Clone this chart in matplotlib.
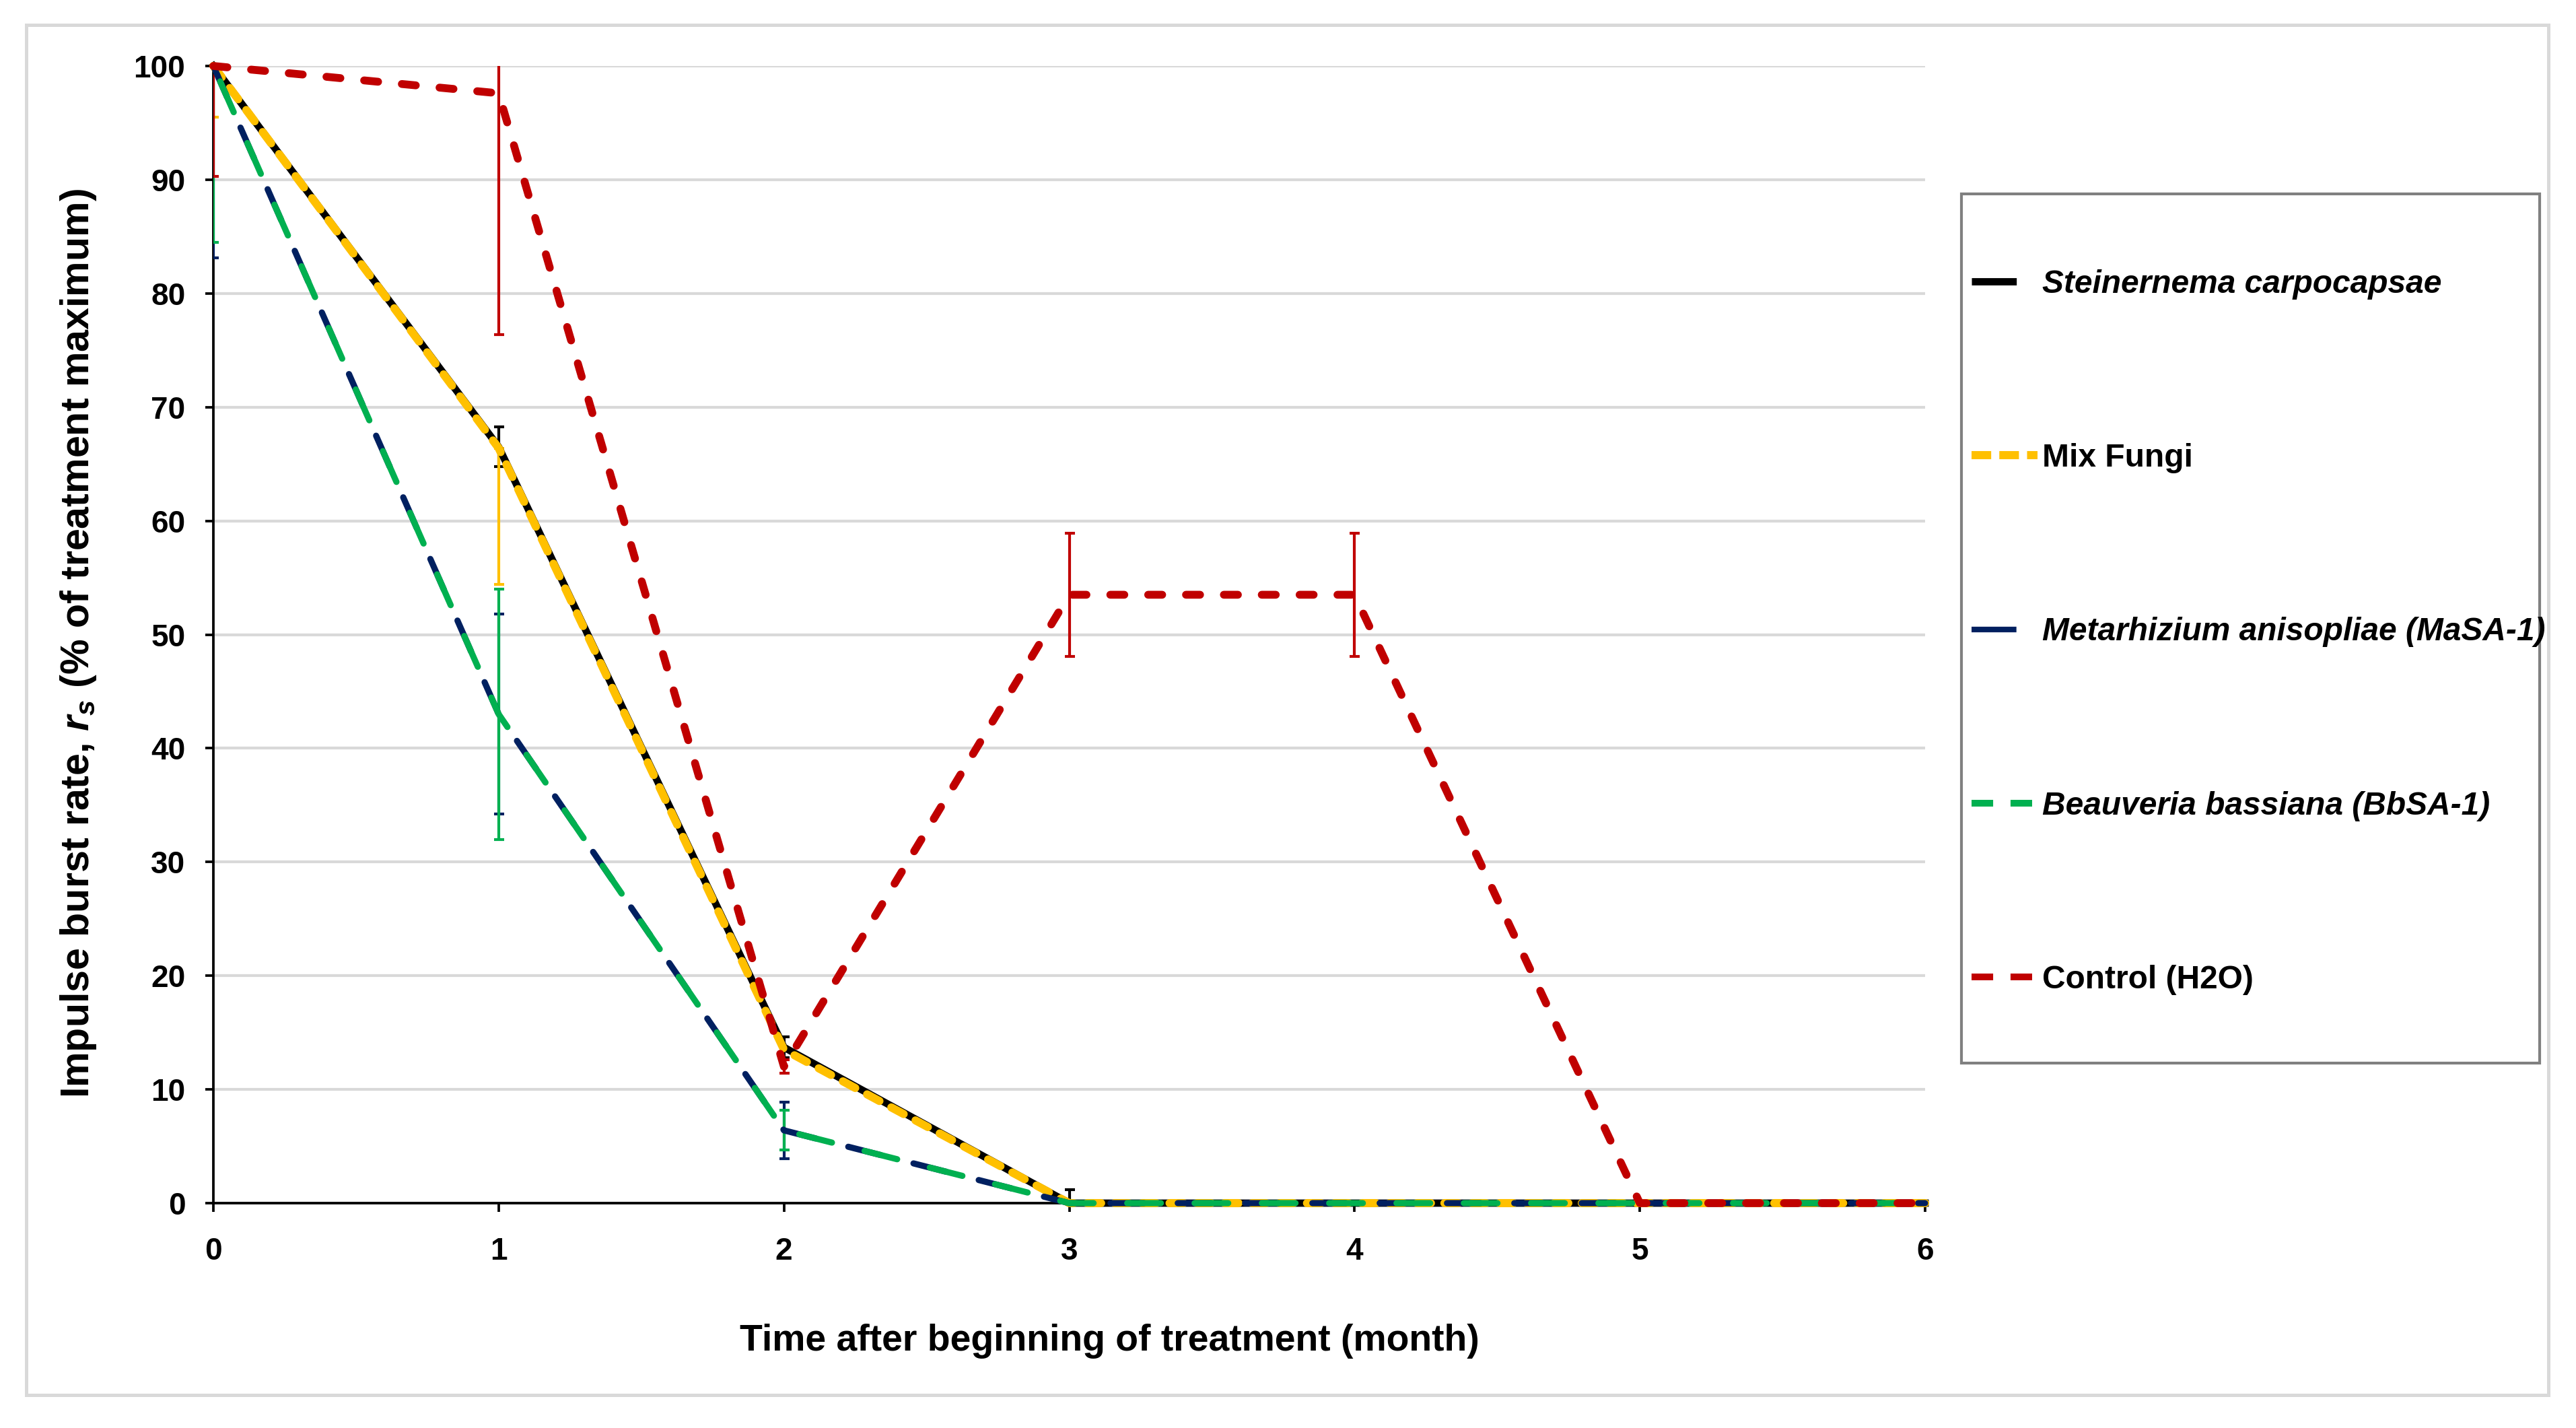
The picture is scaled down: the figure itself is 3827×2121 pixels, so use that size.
import numpy as np
import matplotlib
matplotlib.use('Agg')
import matplotlib.pyplot as plt
from matplotlib.lines import Line2D
from matplotlib.patches import Rectangle

plt.rcParams['font.family'] = ['Liberation Sans', 'DejaVu Sans']
plt.rcParams['font.weight'] = 'bold'
plt.rcParams['mathtext.fontset'] = 'custom'
plt.rcParams['mathtext.it'] = 'Liberation Sans:italic:bold'
plt.rcParams['mathtext.rm'] = 'Liberation Sans:bold'
plt.rcParams['lines.scale_dashes'] = False

# données
months = [0, 1, 2, 3, 4, 5, 6]
labels = ['Steinernema carpocapsae', 'Mix Fungi', 'Metarhizium anisopliae (MaSA-1)',
          'Beauveria bassiana (BbSA-1)', 'Control (H2O)']

sc_mean = [100, 66.5, 13.7, 0, 0, 0, 0]
sc_err = [0, 1.75, 0.9, 1.2, 0, 0, 0]

mix_mean = [100, 66.4, 13.5, 0, 0, 0, 0]
mix_err_low = [4.5, 12.0, 0, 0, 0, 0, 0]
mix_err_high = [4.5, 0, 0, 0, 0, 0, 0]

ma_mean = [100, 43.0, 6.4, 0, 0, 0, 0]
ma_err = [16.9, 8.8, 2.5, 0, 0, 0, 0]

bb_mean = [100, 43.0, 6.4, 0, 0, 0, 0]
bb_err = [15.5, 11.0, 1.75, 0, 0, 0, 0]

ctrl_mean = [100, 97.6, 12.0, 53.5, 53.5, 0, 0]
ctrl_err = [9.7, 21.2, 0.6, 5.4, 5.4, 0, 0]

c_black = '#000000'
c_yellow = '#FFC000'
c_blue = '#002060'
c_green = '#00B050'
c_red = '#C00000'

fig = plt.figure(figsize=(3827 / 300, 2121 / 300), dpi=300)
ax = fig.add_axes([317 / 3827, 1 - 1787 / 2121, (2860 - 317) / 3827, (1787 - 98) / 2121])

# cadre extérieur gris
fig.patches.append(Rectangle((39 / 3827, 1 - 2072 / 2121), (3786 - 39) / 3827, (2072 - 37) / 2121,
                             transform=fig.transFigure, fill=False, edgecolor='#D9D9D9', lw=1.2))


def err_bars(mean, lo, hi, color):
    x = np.array(months, dtype=float)
    m = np.array(mean, dtype=float)
    lo = np.array(lo, dtype=float)
    hi = np.array(hi, dtype=float)
    keep = (lo > 0) | (hi > 0)
    ax.errorbar(x[keep], m[keep], yerr=[lo[keep], hi[keep]], fmt='none', ecolor=color,
                elinewidth=1.0, capsize=1.8, capthick=1.0, zorder=3)


# Steinernema (noir, continu)
ax.plot(months, sc_mean, color=c_black, lw=2.6, zorder=4, clip_on=False)
err_bars(sc_mean, sc_err, sc_err, c_black)

# Mix Fungi (jaune, tirets)
ax.plot(months, mix_mean, color=c_yellow, lw=2.9, dashes=(5, 4.8), dash_capstyle='round',
        zorder=5, clip_on=False)
err_bars(mix_mean, mix_err_low, mix_err_high, c_yellow)

# Metarhizium (bleu)
ax.plot(months, ma_mean, color=c_blue, lw=2.2, linestyle=(0, (12, 12)), dash_capstyle='round',
        zorder=6, clip_on=False)
err_bars(ma_mean, ma_err, ma_err, c_blue)

# Beauveria (vert)
ax.plot(months, bb_mean, color=c_green, lw=2.2, linestyle=(18, (12, 12)), dash_capstyle='round',
        zorder=7, clip_on=False)
err_bars(bb_mean, bb_err, bb_err, c_green)

# Contrôle (rouge)
ax.plot(months, ctrl_mean, color=c_red, lw=2.8, dashes=(5, 8.5), dash_capstyle='round',
        zorder=8, clip_on=False)
err_bars(ctrl_mean, ctrl_err, ctrl_err, c_red)

ax.set_xlim(0, 6)
ax.set_ylim(0, 100)
ax.set_xticks(months)
ax.set_yticks(np.arange(0, 101, 10))
ax.yaxis.grid(True, color='#D9D9D9', lw=1.0)
ax.set_axisbelow(True)
for s in ['top', 'right']:
    ax.spines[s].set_visible(False)
for s in ['left', 'bottom']:
    ax.spines[s].set_linewidth(0.9)
ax.tick_params(axis='y', direction='out', length=3, width=0.9, pad=7, labelsize=11)
ax.tick_params(axis='x', direction='out', length=3, width=0.9, pad=9, labelsize=11)

fig.text(117 / 3827, 1 - 956 / 2121, r'Impulse burst rate, $r_s$ (% of treatment maximum)',
         rotation=90, ha='center', va='center', fontsize=14.2, fontweight='bold')
fig.text(1648 / 3827, 1 - 1992 / 2121, 'Time after beginning of treatment (month)',
         ha='center', va='center', fontsize=13.3, fontweight='bold')

# légende
fig.patches.append(Rectangle((2914 / 3827, 1 - 1579 / 2121), (3773 - 2914) / 3827, (1579 - 288) / 2121,
                             transform=fig.transFigure, fill=False, edgecolor='#808080', lw=1.0))
handles = [
    Line2D([], [], color=c_black, lw=2.6, dashes=(16, 30)),
    Line2D([], [], color=c_yellow, lw=2.9, dashes=(7, 2.9)),
    Line2D([], [], color=c_blue, lw=2.0, dashes=(16, 30)),
    Line2D([], [], color=c_green, lw=2.4, dashes=(7.7, 6.2)),
    Line2D([], [], color=c_red, lw=2.4, dashes=(7.7, 6.2)),
]
leg = fig.legend(handles, labels, loc='upper left', bbox_to_anchor=(2929 / 3827, 1 - 400 / 2121),
                 frameon=False, fontsize=11.5, borderpad=0, borderaxespad=0,
                 handlelength=2.04, handletextpad=0.15, labelspacing=4.45)
for i, t in enumerate(leg.get_texts()):
    if i in (0, 2, 3):
        t.set_style('italic')
    t.set_fontweight('bold')

fig.savefig('out.png', dpi=300)
